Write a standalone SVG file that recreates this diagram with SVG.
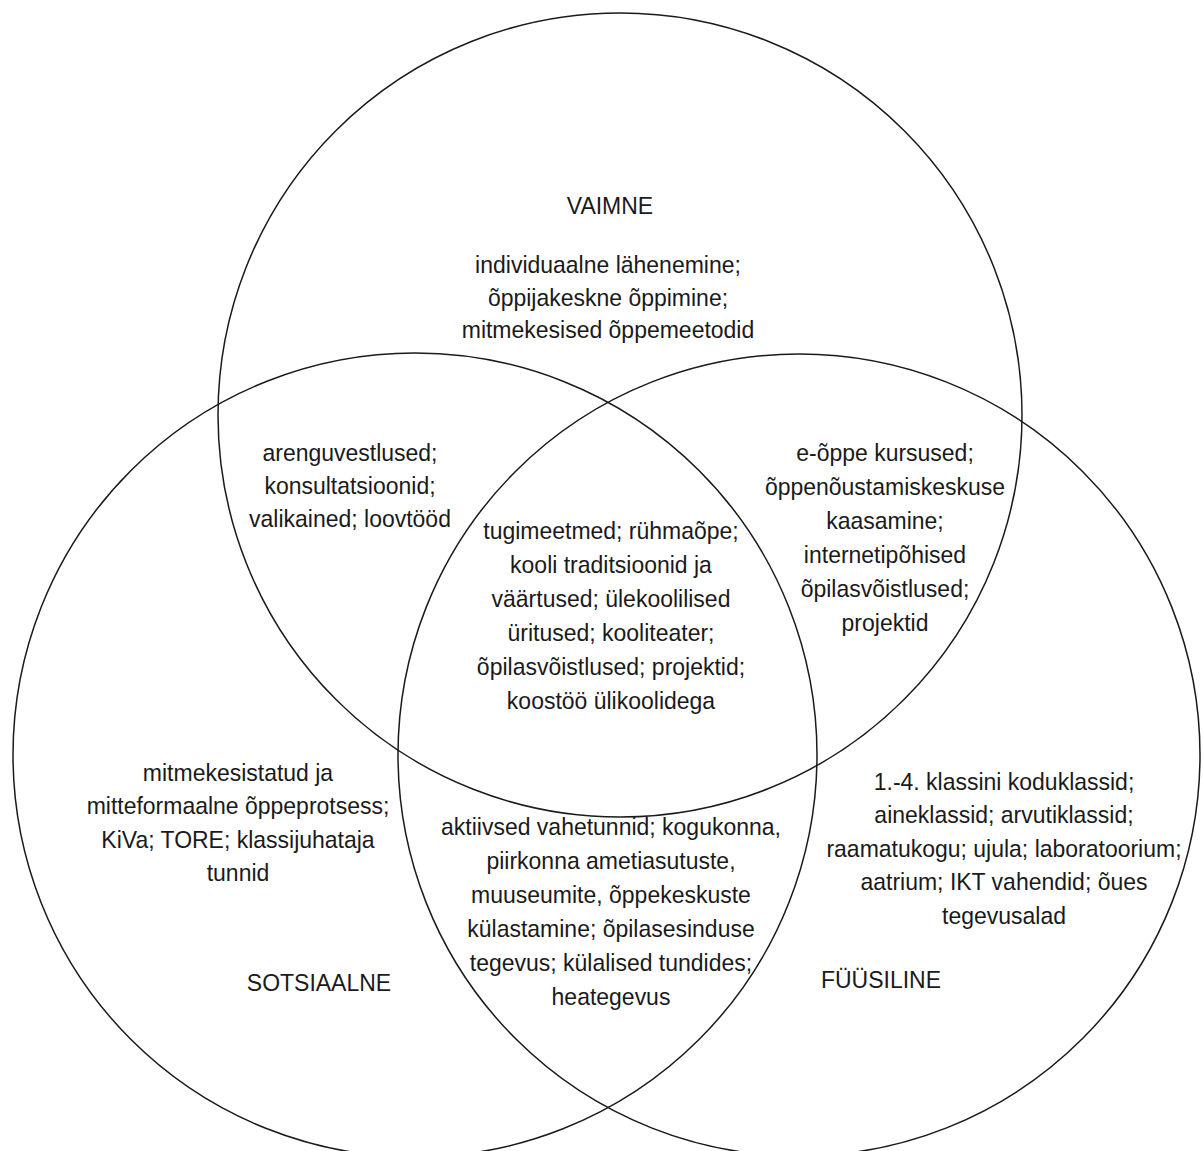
<svg xmlns="http://www.w3.org/2000/svg" width="1203" height="1151" viewBox="0 0 1203 1151">
<style>
.c{fill:none;stroke:#1a1a1a;stroke-width:1.5}
text{font-family:"Liberation Sans",Arial,sans-serif;font-size:23px;fill:#1a1a1a;text-anchor:middle;transform-box:fill-box;transform-origin:50% 100%;transform:scaleY(1.07)}
</style>
<rect width="1203" height="1151" fill="#fff"/>
<g id="connectors"></g>
<g id="vaimne">
<circle class="c" cx="620" cy="415" r="402"/>
<text x="610" y="214">VAIMNE</text>
<text x="608" y="273">individuaalne lähenemine;</text>
<text x="608" y="306">õppijakeskne õppimine;</text>
<text x="608" y="338">mitmekesised õppemeetodid</text>
</g>
<g id="sotsiaalne">
<circle class="c" cx="415" cy="755" r="402"/>
<text x="319" y="991">SOTSIAALNE</text>
<text x="238" y="781">mitmekesistatud ja</text>
<text x="238" y="814">mitteformaalne õppeprotsess;</text>
<text x="238" y="848">KiVa; TORE; klassijuhataja</text>
<text x="238" y="881">tunnid</text>
</g>
<g id="fyysiline">
<circle class="c" cx="799" cy="755" r="401"/>
<text x="881" y="988">FÜÜSILINE</text>
<text x="1004" y="790">1.-4. klassini koduklassid;</text>
<text x="1004" y="823">aineklassid; arvutiklassid;</text>
<text x="1004" y="857">raamatukogu; ujula; laboratoorium;</text>
<text x="1004" y="890">aatrium; IKT vahendid; õues</text>
<text x="1004" y="924">tegevusalad</text>
</g>
<g id="vaimne-sotsiaalne">
<text x="350" y="461">arenguvestlused;</text>
<text x="350" y="494">konsultatsioonid;</text>
<text x="350" y="527">valikained; loovtööd</text>
</g>
<g id="vaimne-fyysiline">
<text x="885" y="461">e-õppe kursused;</text>
<text x="885" y="495">õppenõustamiskeskuse</text>
<text x="885" y="529">kaasamine;</text>
<text x="885" y="563">internetipõhised</text>
<text x="885" y="597">õpilasvõistlused;</text>
<text x="885" y="631">projektid</text>
</g>
<g id="keskne">
<text x="611" y="539">tugimeetmed; rühmaõpe;</text>
<text x="611" y="573">kooli traditsioonid ja</text>
<text x="611" y="607">väärtused; ülekoolilised</text>
<text x="611" y="641">üritused; kooliteater;</text>
<text x="611" y="675">õpilasvõistlused; projektid;</text>
<text x="611" y="709">koostöö ülikoolidega</text>
</g>
<g id="sotsiaalne-fyysiline">
<text x="611" y="835">aktiivsed vahetunnid; kogukonna,</text>
<text x="611" y="869">piirkonna ametiasutuste,</text>
<text x="611" y="903">muuseumite, õppekeskuste</text>
<text x="611" y="937">külastamine; õpilasesinduse</text>
<text x="611" y="971">tegevus; külalised tundides;</text>
<text x="611" y="1005">heategevus</text>
</g>
</svg>
